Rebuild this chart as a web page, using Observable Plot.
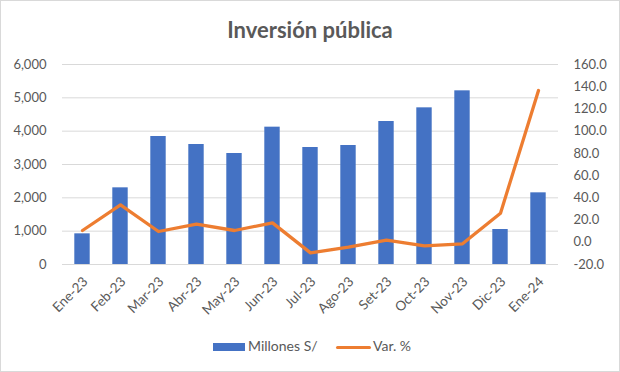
<!DOCTYPE html>
<html>
<head>
<meta charset="utf-8">
<script src="https://cdn.jsdelivr.net/npm/d3@7"></script>
<script src="https://cdn.jsdelivr.net/npm/@observablehq/plot@0.6"></script>
<style>
  body { margin: 0; background: #fff; }
  #wrap { position: relative; width: 620px; height: 372px; overflow: hidden; font-family: Lato, "Open Sans", sans-serif; color: #595959; }
  #wrap svg { position: absolute; left: 0; top: 0; }
  #title { position: absolute; top: 16px; left: 0; width: 620px; text-align: center; font-weight: bold; font-size: 22px; color: #595959; }
  #border { position: absolute; left: 0; top: 0; width: 620px; height: 372px; box-sizing: border-box; border: 1px solid #d9d9d9; pointer-events: none; }
  .lg { position: absolute; font-size: 14px; color: #595959; line-height: 1; }
</style>
</head>
<body>
<div id="wrap">
  <div id="title">Inversión pública</div>
  <div id="legend"></div>
  <div id="border"></div>
</div>
<script>
const months = ["Ene-23","Feb-23","Mar-23","Abr-23","May-23","Jun-23","Jul-23","Ago-23","Set-23","Oct-23","Nov-23","Dic-23","Ene-24"];
const millones = [920, 2300, 3840, 3600, 3330, 4120, 3510, 3570, 4290, 4700, 5210, 1050, 2150];
const varPct = [10.6, 33.7, 9.7, 16.3, 10.6, 17.5, -9.5, -4.4, 1.9, -3.2, -1.4, 26.2, 136.6];
const leftTicks = [0, 1000, 2000, 3000, 4000, 5000, 6000];
const rightTicks = [-20, 0, 20, 40, 60, 80, 100, 120, 140, 160];
const seriesNames = ["Millones S/", "Var. %"];
const colors = ["#4472C4", "#ED7D31"];

const data = months.map((m, i) => ({month: m, mill: millones[i], pct: varPct[i]}));

// secondary axis mapped onto the primary y scale
const lMin = leftTicks[0], lMax = leftTicks[leftTicks.length - 1];
const rMin = rightTicks[0], rMax = rightTicks[rightTicks.length - 1];
const toLeft = v => lMin + (v - rMin) / (rMax - rMin) * (lMax - lMin);
const fromLeft = y => rMin + (y - lMin) / (lMax - lMin) * (rMax - rMin);

const chart = Plot.plot({
  width: 620,
  height: 372,
  marginTop: 64,
  marginBottom: 108,
  marginLeft: 62,
  marginRight: 62,
  style: {fontFamily: "Lato, 'Open Sans', sans-serif", fontSize: "13px", color: "#595959", background: "transparent", overflow: "visible"},
  x: {type: "band", domain: months, padding: 0, label: null},
  y: {domain: [lMin, lMax], label: null},
  marks: [
    Plot.gridY(leftTicks, {stroke: "#d9d9d9", strokeOpacity: 1, strokeWidth: 1}),
    Plot.barY(data, {x: "month", y: "mill", fill: colors[0], insetLeft: 11.3, insetRight: 11.3}),
    Plot.ruleY([lMin], {stroke: "#d9d9d9", strokeWidth: 1}),
    Plot.lineY(data, {x: "month", y: d => toLeft(d.pct), stroke: colors[1], strokeWidth: 3.3, strokeLinecap: "round", strokeLinejoin: "round"}),
    Plot.axisY(leftTicks, {anchor: "left", tickSize: 0, tickPadding: 16, tickFormat: d3.format(","), label: null, fontSize: 13}),
    Plot.axisY(rightTicks.map(toLeft), {anchor: "right", tickSize: 0, tickPadding: 15, tickFormat: d => fromLeft(d).toFixed(1), label: null, fontSize: 13}),
    Plot.axisX({tickSize: 0, tickPadding: 15, dx: 3, tickRotate: -45, label: null, fontSize: 13.5})
  ]
});
document.getElementById("wrap").insertBefore(chart, document.getElementById("title"));

// legend
const lg = document.getElementById("legend");
lg.innerHTML = `
  <div style="position:absolute;left:213px;top:343px;width:32px;height:8px;background:${colors[0]}"></div>
  <div class="lg" style="left:248px;top:339px;">${seriesNames[0]}</div>
  <div style="position:absolute;left:336px;top:345.5px;width:35px;height:3px;background:${colors[1]};border-radius:1.5px"></div>
  <div class="lg" style="left:373px;top:339px;">${seriesNames[1]}</div>
`;
</script>
</body>
</html>
